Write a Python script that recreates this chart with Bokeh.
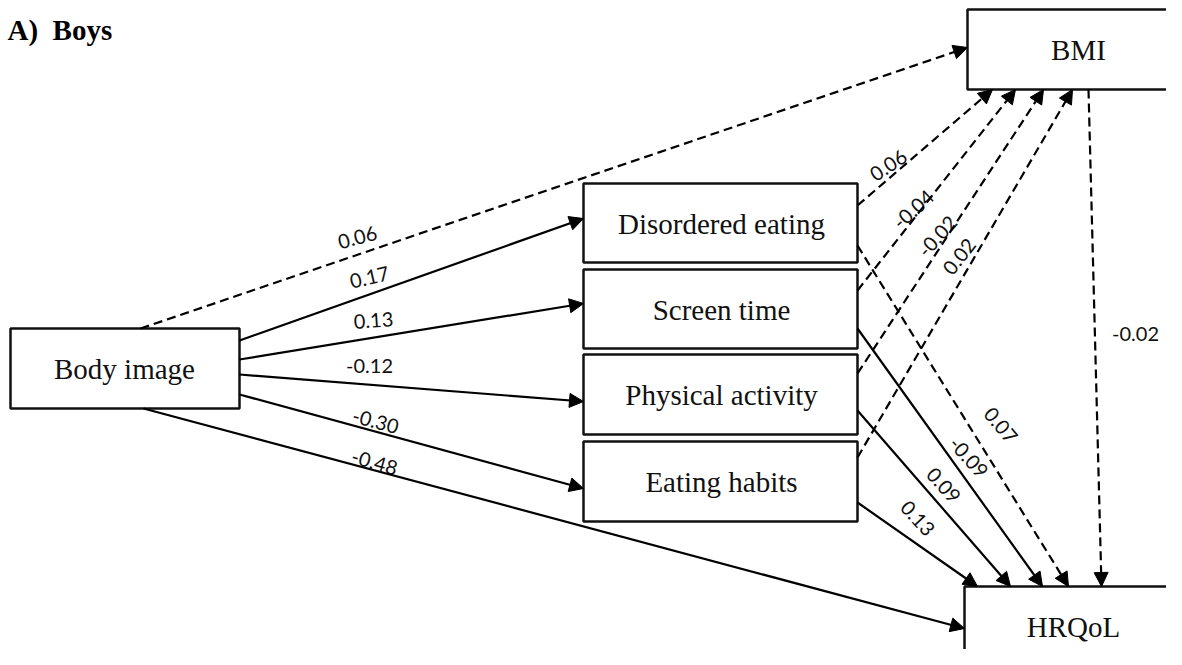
import math
from bokeh.plotting import figure
from bokeh.models import ColumnDataSource, Range1d, Arrow, NormalHead
from bokeh.core.properties import value
from bokeh.embed import file_html
from bokeh.resources import INLINE

# ---------------- data ----------------
title_text = "A)\u00a0\u00a0Boys"
node_names = ["Body image", "Disordered eating", "Screen time",
              "Physical activity", "Eating habits", "BMI", "HRQoL"]

edge_from = ["Body image", "Body image", "Body image", "Body image", "Body image", "Body image",
             "Disordered eating", "Screen time", "Physical activity", "Eating habits",
             "Disordered eating", "Screen time", "Physical activity", "Eating habits", "BMI"]
edge_to = ["BMI", "Disordered eating", "Screen time", "Physical activity", "Eating habits", "HRQoL",
           "BMI", "BMI", "BMI", "BMI",
           "HRQoL", "HRQoL", "HRQoL", "HRQoL", "HRQoL"]
coefficients = [0.06, 0.17, 0.13, -0.12, -0.30, -0.48,
                0.06, -0.04, -0.02, 0.02,
                0.07, -0.09, 0.09, 0.13, -0.02]
significant = [False, True, True, True, True, True,
               False, False, False, False,
               False, True, True, True, False]

# ---------------- layout (image pixel coords, y down) ----------------
boxes = {  # left, right, top, bottom
    "Body image": (10, 239, 328, 408),
    "Disordered eating": (583, 857, 183, 262),
    "Screen time": (583, 857, 269, 348),
    "Physical activity": (583, 857, 354, 434),
    "Eating habits": (583, 857, 441, 521),
    "BMI": (967, 1189, 9, 89),
    "HRQoL": (964, 1189, 586, 664),
}
text_pos = {
    "Body image": (124, 368),
    "Disordered eating": (721, 223),
    "Screen time": (721, 309),
    "Physical activity": (721, 394),
    "Eating habits": (721, 481),
    "BMI": (1078, 49),
    "HRQoL": (1073, 626),
}
edge_pts = [  # x0, y0, x1, y1
    (140, 328, 967, 47),
    (239, 340, 583, 218),
    (239, 359, 583, 303),
    (239, 374, 583, 401),
    (239, 394, 583, 488),
    (143, 408, 964, 628),
    (857, 205, 992, 89),
    (857, 290, 1015, 89),
    (857, 373, 1043, 89),
    (857, 457, 1072, 89),
    (857, 245, 1068, 586),
    (857, 328, 1042, 586),
    (857, 410, 1010, 586),
    (857, 502, 977, 586),
    (1088, 89, 1101, 586),
]
label_pos = [
    (357, 237), (369, 277), (373, 320), (369, 365), (375, 421), (374, 462),
    (888, 165), (913, 209), (937, 236), (959, 256),
    (1000, 425), (968, 457), (943, 485), (917, 518), (1135, 333),
]
label_angle_deg = [15, 13, 4, 0, -15, -16,
                   34, 42, 48, 52,
                   -50, -48, -48, -47, 0]

p = figure(width=1166, height=649, x_range=Range1d(0, 1166), y_range=Range1d(-649, 0),
           output_backend="svg", toolbar_location=None, min_border=0)
p.axis.visible = False
p.grid.visible = False
p.outline_line_color = None
p.background_fill_color = "white"
p.border_fill_color = "white"

# boxes
bsrc = ColumnDataSource(dict(
    left=[boxes[n][0] for n in node_names],
    right=[boxes[n][1] for n in node_names],
    top=[-boxes[n][2] for n in node_names],
    bottom=[-boxes[n][3] for n in node_names],
))
p.quad(left="left", right="right", top="top", bottom="bottom", source=bsrc,
       fill_color="white", line_color="#111111", line_width=2.5)

p.text(x=[text_pos[n][0] for n in node_names], y=[-text_pos[n][1] for n in node_names],
       text=node_names, text_font=value("Liberation Serif"), text_font_size="29px",
       text_align="center", text_baseline="middle", text_color="#111111")

# edges
for sig in (True, False):
    idx = [i for i in range(len(coefficients)) if significant[i] == sig]
    src = ColumnDataSource(dict(
        x0=[edge_pts[i][0] for i in idx], y0=[-edge_pts[i][1] for i in idx],
        x1=[edge_pts[i][2] for i in idx], y1=[-edge_pts[i][3] for i in idx],
    ))
    arr = Arrow(end=NormalHead(size=14, fill_color="black", line_color="black", line_width=1),
                x_start="x0", y_start="y0", x_end="x1", y_end="y1", source=src,
                line_color="black", line_width=2.2,
                line_dash="solid" if sig else "9 5")
    p.add_layout(arr)

# coefficient labels
p.text(x=[q[0] for q in label_pos], y=[-q[1] for q in label_pos],
       text=["%.2f" % c for c in coefficients],
       angle=[math.radians(a) for a in label_angle_deg],
       text_font=value("Lato"), text_font_size="20px",
       text_align="center", text_baseline="middle", text_color="#111111")

# title
p.text(x=[7], y=[-29], text=[title_text], text_font=value("Liberation Serif"),
       text_font_size="29px", text_font_style="bold", text_align="left",
       text_baseline="middle", text_color="black")

open("out.html", "w").write(file_html(p, INLINE))
